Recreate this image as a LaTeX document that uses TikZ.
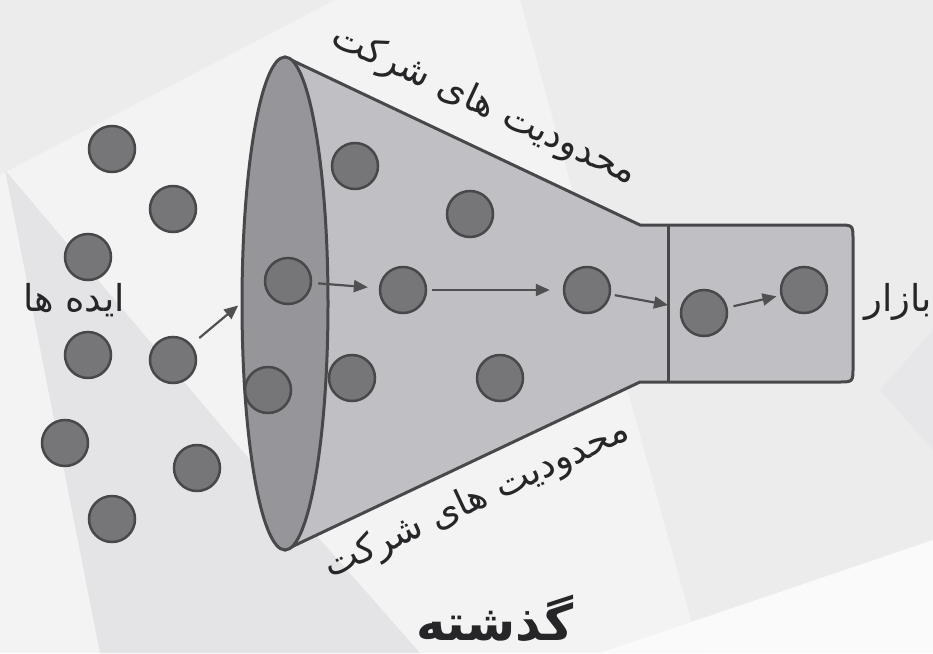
\documentclass[tikz,border=0pt]{standalone}
\usepackage{fontspec}
\usetikzlibrary{arrows.meta, shapes.geometric}
\TeXXeTstate=1
\newfontfamily\farsi[Script=Arabic]{DejaVu Sans}
\definecolor{bgbase}{RGB}{236,236,237}
\definecolor{bglight}{RGB}{243,243,244}
\definecolor{bgdark}{RGB}{228,228,230}
\definecolor{bgwhite}{RGB}{250,250,250}
\definecolor{bodyfill}{RGB}{192,192,196}
\definecolor{mouthfill}{RGB}{150,150,154}
\definecolor{ideafill}{RGB}{118,118,121}
\definecolor{edgecol}{RGB}{72,72,75}
\definecolor{arrowcol}{RGB}{80,80,83}
\definecolor{labelcol}{RGB}{38,38,40}

\begin{document}
\begin{tikzpicture}[x=1pt, y=-1pt,
    idea/.style={circle, fill=ideafill, draw=edgecol, line width=2.5pt,
                 minimum size=46pt, inner sep=0pt},
    flow/.style={-{Triangle[length=14pt, width=12pt]}, line width=2.2pt, draw=arrowcol},
    lbl/.style={text=labelcol, font=\farsi\fontsize{37}{42}\selectfont},
]

% background with faint facets
\fill[bgbase] (0,0) rectangle (933,653);
\path[use as bounding box] (0,0) rectangle (933,653);
\fill[bglight] (0,175) -- (335,0) -- (520,0) -- (700,653) -- (0,653) -- cycle;
\fill[bgdark] (5,170) -- (250,460) -- (420,653) -- (100,653) -- cycle;
\fill[bgwhite] (600,653) -- (933,540) -- (933,653) -- cycle;
\fill[bgdark!60!bgbase] (880,390) -- (933,330) -- (933,450) -- cycle;

% funnel body and market box
\filldraw[fill=bodyfill, draw=edgecol, line width=3pt, line join=round]
    (285,57) -- (640,225) -- (838,225)
    .. controls (853,225) .. (853,240) -- (853,367)
    .. controls (853,382) .. (838,382) -- (640,382) -- (285,550) -- cycle;
\draw[edgecol, line width=3pt] (668,225) -- (668,382);
\coordinate (gate) at (668,305);

% mouth of the funnel
\node[ellipse, fill=mouthfill, draw=edgecol, line width=3pt, inner sep=0pt,
      minimum width=86pt, minimum height=493pt] (mouth) at (285,303.5) {};

% ideas outside
\node[idea] (i1) at (112,149) {};
\node[idea] (i2) at (173,209) {};
\node[idea] (i3) at (88,257) {};
\node[idea] (i4) at (88,355) {};
\node[idea] (i5) at (173,360) {};
\node[idea] (i6) at (65,443) {};
\node[idea] (i7) at (197,468) {};
\node[idea] (i8) at (112,519) {};

% ideas inside the funnel
\node[idea] (f1) at (288,281) {};
\node[idea] (f2) at (355,166) {};
\node[idea] (f3) at (470,214) {};
\node[idea] (f4) at (403,290) {};
\node[idea] (f5) at (587,290) {};
\node[idea] (f6) at (268,390) {};
\node[idea] (f7) at (352,378) {};
\node[idea] (f8) at (500,378) {};

% ideas in the market
\node[idea] (m1) at (704,313) {};
\node[idea] (m2) at (804,290) {};

% flow
\draw[flow, shorten <=10pt, shorten >=3pt] (i5) -- (mouth.west);
\draw[flow, shorten <=6pt, shorten >=11pt] (f1) -- (f4);
\draw[flow, shorten <=5pt, shorten >=13pt] (f4) -- (f5);
\draw[flow, shorten <=4pt] (f5) -- (gate);
\draw[flow, shorten <=6pt, shorten >=4pt] (m1) -- (m2);

% labels
\node[lbl] (ideas) at (74,300) {\beginR ایده ها\endR};
\node[lbl] (market) at (898,302) {\beginR بازار\endR};
\node[lbl, rotate=-25] (limtop) at (484,106) {\beginR محدودیت های شرکت\endR};
\node[lbl, rotate=25] (limbot) at (477,500) {\beginR محدودیت های شرکت\endR};
\node[text=labelcol, inner sep=0pt, font=\farsi\bfseries\fontsize{50}{56}\selectfont] (past)
    at (495,618) {\beginR گذشته\endR};

\end{tikzpicture}
\end{document}
